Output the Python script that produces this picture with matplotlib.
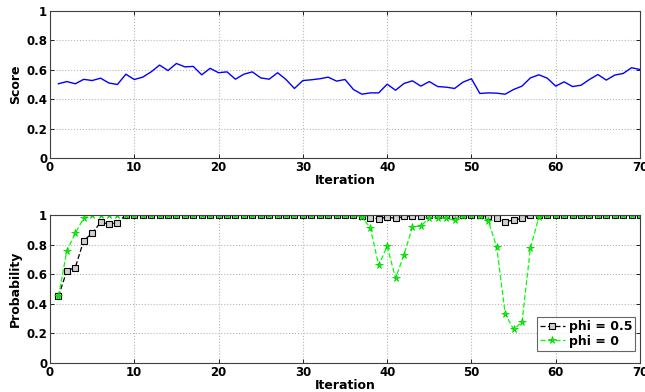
import numpy as np
import matplotlib
matplotlib.use("Agg")
import matplotlib.pyplot as plt

iterations = list(range(1, 71))

score = [0.505, 0.52, 0.505, 0.535, 0.527, 0.543, 0.51, 0.50, 0.57, 0.534,
         0.55, 0.586, 0.632, 0.595, 0.643, 0.62, 0.623, 0.566, 0.61, 0.58,
         0.586, 0.536, 0.57, 0.586, 0.545, 0.536, 0.58, 0.534, 0.473, 0.527,
         0.532, 0.539, 0.55, 0.523, 0.534, 0.466, 0.434, 0.443, 0.443, 0.502,
         0.461, 0.507, 0.525, 0.489, 0.52, 0.486, 0.482, 0.473, 0.516, 0.539,
         0.439, 0.443, 0.441, 0.434, 0.466, 0.489, 0.545, 0.566, 0.543, 0.489,
         0.518, 0.486, 0.495, 0.534, 0.568, 0.53, 0.564, 0.575, 0.614, 0.602]

prob_phi05 = [0.45, 0.623, 0.645, 0.827, 0.877, 0.95, 0.94, 0.948, 1.0, 1.0,
              1.0, 1.0, 1.0, 1.0, 1.0, 1.0, 1.0, 1.0, 1.0, 1.0,
              1.0, 1.0, 1.0, 1.0, 1.0, 1.0, 1.0, 1.0, 1.0, 1.0,
              1.0, 1.0, 1.0, 1.0, 1.0, 1.0, 0.99, 0.98, 0.975, 0.986,
              0.977, 0.99, 0.995, 0.995, 0.998, 0.998, 0.998, 0.998, 1.0, 1.0,
              1.0, 0.99, 0.977, 0.955, 0.966, 0.977, 0.998, 1.0, 1.0, 1.0,
              1.0, 1.0, 1.0, 1.0, 1.0, 1.0, 1.0, 1.0, 1.0, 1.0]

prob_phi0 = [0.45, 0.757, 0.877, 0.98, 0.998, 1.0, 1.0, 1.0, 1.0, 1.0,
             1.0, 1.0, 1.0, 1.0, 1.0, 1.0, 1.0, 1.0, 1.0, 1.0,
             1.0, 1.0, 1.0, 1.0, 1.0, 1.0, 1.0, 1.0, 1.0, 1.0,
             1.0, 1.0, 1.0, 1.0, 1.0, 1.0, 0.986, 0.914, 0.66, 0.789,
             0.573, 0.732, 0.92, 0.925, 0.982, 0.982, 0.977, 0.966, 0.995, 0.998,
             0.995, 0.96, 0.784, 0.334, 0.227, 0.277, 0.777, 0.986, 1.0, 1.0,
             1.0, 1.0, 1.0, 1.0, 1.0, 1.0, 1.0, 1.0, 1.0, 1.0]

xticks = [0, 10, 20, 30, 40, 50, 60, 70]
yticks = [0, 0.2, 0.4, 0.6, 0.8, 1.0]
yticklabels = ["0", "0.2", "0.4", "0.6", "0.8", "1"]

plt.rcParams['font.family'] = ['DejaVu Sans']
plt.rcParams['font.weight'] = 'bold'

fig = plt.figure(figsize=(6.45, 3.92), dpi=100)
ax1 = fig.add_axes([50/645, 1-158/392, 590/645, 147/392])
ax2 = fig.add_axes([50/645, 1-363/392, 590/645, 148/392])

def style(ax, ylabel):
    ax.set_xlim(0, 70)
    ax.set_ylim(0, 1)
    ax.set_xticks(xticks)
    ax.set_xticklabels([str(t) for t in xticks], fontsize=8.5, fontweight='bold')
    ax.set_yticks(yticks)
    ax.set_yticklabels(yticklabels, fontsize=8.5, fontweight='bold')
    ax.grid(True, linestyle=':', color='#b8b8b8', linewidth=0.8)
    ax.tick_params(direction='in', length=3, width=0.6, top=True, right=True, pad=2)
    for s in ax.spines.values():
        s.set_color('#404040')
        s.set_linewidth(0.8)
    ax.set_xlabel('Iteration', fontsize=9, fontweight='bold')
    ax.set_ylabel(ylabel, fontsize=9, fontweight='bold', labelpad=3)
    ax.xaxis.set_label_coords(0.5, -0.11)

ax1.plot(iterations, score, color=(0, 0, 1), linewidth=1.0)
style(ax1, 'Score')

ax2.plot(iterations, prob_phi05, color='black', linestyle='--', linewidth=0.9,
         marker='s', markersize=3.8, markerfacecolor='#d0d0d0', markeredgecolor='black',
         markeredgewidth=0.8, label='phi = 0.5', dashes=(4, 2))
ax2.plot(iterations, prob_phi0, color=(0, 1, 0), linestyle='--', linewidth=0.9,
         marker='*', markersize=5.5, markerfacecolor=(0, 1, 0), markeredgecolor=(0, 0.8, 0),
         markeredgewidth=0.5, label='phi = 0', dashes=(4, 2))
style(ax2, 'Probability')

leg = ax2.legend(loc='lower right', bbox_to_anchor=(0.996, 0.065),
                 prop={'weight': 'bold', 'size': 9}, frameon=True, fancybox=False,
                 borderpad=0.25, handlelength=2.0, handletextpad=0.3, labelspacing=0.15,
                 borderaxespad=0.2)
leg.get_frame().set_edgecolor('#404040')
leg.get_frame().set_linewidth(0.8)

fig.savefig('out.png', dpi=100)
